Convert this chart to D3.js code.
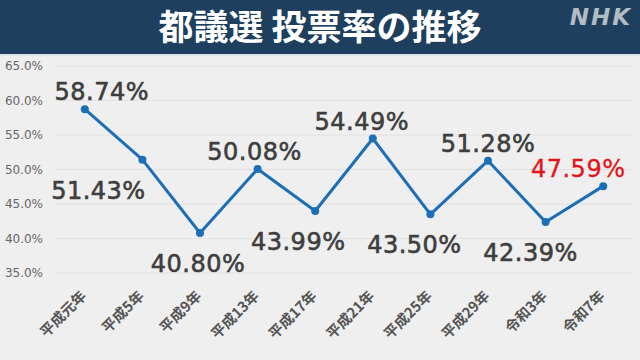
<!DOCTYPE html>
<html>
<head>
<meta charset="utf-8">
<script src="https://cdn.jsdelivr.net/npm/d3@7"></script>
<style>
  body { margin: 0; background: #efefef; }
  svg { display: block; }
</style>
</head>
<body>
<svg id="chart"></svg>
<script>
// election years
var years = ['平成元年', '平成5年', '平成9年', '平成13年', '平成17年', '平成21年', '平成25年', '平成29年', '令和3年', '令和7年'];
// turnout (%)
var turnout = [58.74, 51.43, 40.80, 50.08, 43.99, 54.49, 43.50, 51.28, 42.39, 47.59];
var yTicks = [35, 40, 45, 50, 55, 60, 65];

// where each value label sits relative to its point
var labelDx = [17, -44, -2, -3, -17, -11, -16, 0, -15, -25];
var labelAbove = [true, false, false, true, false, true, false, true, false, true];

var width = 640, height = 360;

var svg = d3.select('#chart')
    .attr('width', width)
    .attr('height', height);

svg.append('rect')
    .attr('width', width)
    .attr('height', height)
    .attr('fill', '#efefef');

// header band
svg.append('rect')
    .attr('width', width)
    .attr('height', 54)
    .attr('fill', '#1e405e');
svg.append('rect')
    .attr('y', 54)
    .attr('width', width)
    .attr('height', 2)
    .attr('fill', '#dde3e8');

svg.append('text')
    .attr('x', 320)
    .attr('y', 40)
    .attr('text-anchor', 'middle')
    .attr('fill', '#ffffff')
    .style('font-family', '"Noto Sans CJK JP", sans-serif')
    .style('font-weight', 'bold')
    .style('font-size', '35px')
    .text('都議選 投票率の推移');

svg.append('text')
    .attr('x', 632)
    .attr('y', 25)
    .attr('text-anchor', 'end')
    .attr('fill', '#b3bcc5')
    .style('font-family', '"DejaVu Sans", sans-serif')
    .style('font-weight', 'bold')
    .style('font-style', 'italic')
    .style('font-size', '23px')
    .style('letter-spacing', '2px')
    .text('NHK');

// scales
var x = d3.scalePoint().domain(years).range([56, 632]).padding(0.5);
var y = d3.scaleLinear().domain([35, 65]).range([273, 66]);

// grid
svg.append('g')
    .selectAll('line')
    .data(yTicks)
    .enter().append('line')
    .attr('x1', 55)
    .attr('x2', 632)
    .attr('y1', function (d) { return y(d); })
    .attr('y2', function (d) { return y(d); })
    .attr('stroke', '#e1e1e1')
    .attr('stroke-width', 1);

var yAxis = d3.axisLeft(y)
    .tickValues(yTicks)
    .tickSize(0)
    .tickPadding(0)
    .tickFormat(function (d) { return d.toFixed(1) + '%'; });

var yg = svg.append('g')
    .attr('transform', 'translate(43,0)')
    .call(yAxis);
yg.select('.domain').remove();
yg.selectAll('text')
    .attr('fill', '#666')
    .style('font-family', '"DejaVu Sans", sans-serif')
    .style('font-size', '12px');

// x labels
var xAxis = d3.axisBottom(x).tickSize(0).tickPadding(0);
var xg = svg.append('g')
    .attr('transform', 'translate(0,297)')
    .call(xAxis);
xg.select('.domain').remove();
xg.selectAll('text')
    .attr('y', 0)
    .attr('dy', 0)
    .attr('transform', 'translate(2,0) rotate(-45)')
    .attr('text-anchor', 'end')
    .attr('fill', '#555')
    .style('font-family', '"Noto Sans CJK JP", sans-serif')
    .style('font-weight', 'bold')
    .style('font-size', '14.5px');

// line
var line = d3.line()
    .x(function (d, i) { return x(years[i]); })
    .y(function (d) { return y(d); });

svg.append('path')
    .datum(turnout)
    .attr('d', line)
    .attr('fill', 'none')
    .attr('stroke', '#1c6fb6')
    .attr('stroke-width', 3)
    .attr('stroke-linejoin', 'round');

svg.append('g')
    .selectAll('circle')
    .data(turnout)
    .enter().append('circle')
    .attr('cx', function (d, i) { return x(years[i]); })
    .attr('cy', function (d) { return y(d); })
    .attr('r', 4)
    .attr('fill', '#1c6fb6');

// value labels
var last = turnout.length - 1;
svg.append('g')
    .selectAll('text')
    .data(turnout)
    .enter().append('text')
    .attr('x', function (d, i) { return x(years[i]) + labelDx[i]; })
    .attr('y', function (d, i) { return labelAbove[i] ? y(d) - 9 : y(d) + 39; })
    .attr('text-anchor', 'middle')
    .attr('fill', function (d, i) { return i === last ? '#e3131b' : '#3e3e3e'; })
    .attr('stroke', function (d, i) { return i === last ? '#e3131b' : '#3e3e3e'; })
    .attr('stroke-width', function (d, i) { return i === last ? 0.3 : 0.6; })
    .style('font-family', '"DejaVu Sans", sans-serif')
    .style('font-size', '24px')
    .style('letter-spacing', '0.5px')
    .text(function (d) { return d.toFixed(2) + '%'; });
</script>
</body>
</html>
